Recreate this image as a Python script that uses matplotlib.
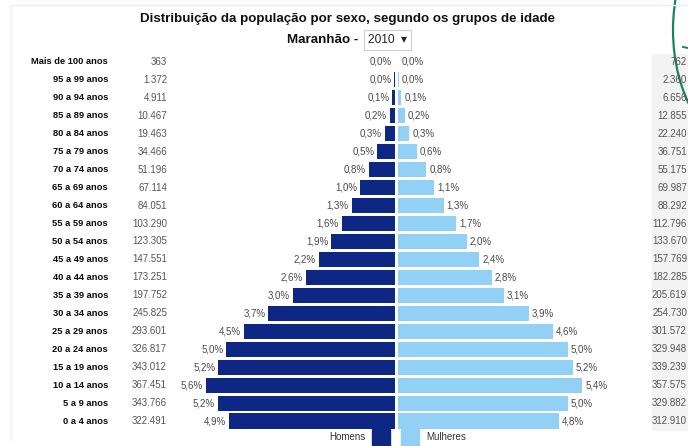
import matplotlib
matplotlib.use("Agg")
import matplotlib.pyplot as plt
from matplotlib.patches import Rectangle, Arc
from matplotlib.transforms import blended_transform_factory
import numpy as np

plt.rcParams['font.family'] = ['Liberation Sans', 'DejaVu Sans']

# age groups, oldest first (top of the pyramid)
grupos = ["Mais de 100 anos", "95 a 99 anos", "90 a 94 anos", "85 a 89 anos",
          "80 a 84 anos", "75 a 79 anos", "70 a 74 anos", "65 a 69 anos",
          "60 a 64 anos", "55 a 59 anos", "50 a 54 anos", "45 a 49 anos",
          "40 a 44 anos", "35 a 39 anos", "30 a 34 anos", "25 a 29 anos",
          "20 a 24 anos", "15 a 19 anos", "10 a 14 anos", "5 a 9 anos",
          "0 a 4 anos"]
homens = [363, 1372, 4911, 10467, 19463, 34466, 51196, 67114, 84051, 103290,
          123305, 147551, 173251, 197752, 245825, 293601, 326817, 343012,
          367451, 343766, 322491]
mulheres = [762, 2360, 6656, 12855, 22240, 36751, 55175, 69987, 88292, 112796,
            133670, 157769, 182285, 205619, 254730, 301572, 329948, 339239,
            357575, 329882, 312910]

escuro = "#0e2784"
claro = "#92d0f6"

homens = np.array(homens)
mulheres = np.array(mulheres)
total = homens.sum() + mulheres.sum()
pct_h = homens / total * 100
pct_m = mulheres / total * 100


def fmt_pct(v):
    return f"{v:.1f}".replace(".", ",") + "%"


def fmt_n(n):
    return f"{n:,}".replace(",", ".")


W, H = 688, 446
fig = plt.figure(figsize=(W / 100, H / 100), dpi=100)
fig.patch.set_facecolor("white")

# bar area in pixels: x 180..615, y 53..430, centre line at x=396.5
px_per_pct = 33.9
ax_l, ax_r, ax_t, ax_b = 180, 615, 53, 430
ax = fig.add_axes([ax_l / W, 1 - ax_b / H, (ax_r - ax_l) / W, (ax_b - ax_t) / H])
ax.set_xlim(-(396.5 - ax_l) / px_per_pct, (ax_r - 396.5) / px_per_pct)
ax.set_ylim(len(grupos) - 0.5, -0.5)
ax.axis("off")

gap = 1.5 / px_per_pct
rows = np.arange(len(grupos))
ax.barh(rows, -pct_h, left=-gap, height=0.84, color=escuro)
ax.barh(rows, pct_m, left=gap, height=0.84, color=claro)

for i in rows:
    ax.annotate(fmt_pct(pct_h[i]), (-gap - pct_h[i], i), xytext=(-2, 0),
                textcoords="offset points", ha="right", va="center",
                fontsize=7, color="#4a4a4a")
    ax.annotate(fmt_pct(pct_m[i]), (gap + pct_m[i], i), xytext=(2, 0),
                textcoords="offset points", ha="left", va="center",
                fontsize=7, color="#4a4a4a")

# side columns: age group, male count (left) and female count (right)
trans = blended_transform_factory(fig.transFigure, ax.transData)
fig.patches.append(Rectangle((652 / W, 1 - 430 / H), 40 / W, 376 / H,
                             transform=fig.transFigure, color="#f3f3f3", zorder=0))
for i in rows:
    fig.text(108 / W, i, grupos[i], transform=trans, ha="right", va="center",
             fontsize=6.7, fontweight="bold", color="#0a0a0a")
    fig.text(167 / W, i, fmt_n(homens[i]), transform=trans, ha="right",
             va="center", fontsize=7, color="#555555")
    fig.text(687 / W, i, fmt_n(mulheres[i]), transform=trans, ha="right",
             va="center", fontsize=7, color="#555555")

# title and year selector
fig.text(347.5 / W, 1 - 19 / H, "Distribuição da população por sexo, segundo os grupos de idade",
         ha="center", va="center", fontsize=9.6, fontweight="bold", color="#111111")
fig.text(358 / W, 1 - 40 / H, "Maranhão -", ha="right", va="center",
         fontsize=9.6, fontweight="bold", color="#111111")
fig.text(368 / W, 1 - 40 / H, "2010  \u25be", ha="left", va="center",
         fontsize=8.6, color="#222222",
         bbox=dict(boxstyle="square,pad=0.35", fc="white", ec="#cfcfcf", lw=0.8))

# faint frame lines of the page
fig.add_artist(plt.Line2D([10 / W, 1], [1 - 5 / H, 1 - 5 / H], color="#ececec", lw=1))
fig.add_artist(plt.Line2D([11 / W, 11 / W], [1 - 5 / H, 1 - 440 / H], color="#f2f2f2", lw=1))

# legend at the bottom
fig.text(366 / W, 1 - 437 / H, "Homens", ha="right", va="center", fontsize=7, color="#333333")
fig.patches.append(Rectangle((372 / W, 0), 18 / W, 17 / H, transform=fig.transFigure,
                             color=escuro))
fig.patches.append(Rectangle((401 / W, 0), 18 / W, 17 / H, transform=fig.transFigure,
                             color=claro))
fig.text(426 / W, 1 - 437 / H, "Mulheres", ha="left", va="center", fontsize=7, color="#333333")

# green pen stroke in the top right corner
fig.add_artist(Arc((7.48, 4.16), 1.50, 2.40, theta1=90, theta2=270,
                   transform=fig.dpi_scale_trans, color="#17855a", lw=1.6))
fig.add_artist(plt.Line2D([6.83, 6.88], [3.99, 3.98], transform=fig.dpi_scale_trans,
                          color="#17855a", lw=1.4))

fig.savefig("out.png", dpi=100)
